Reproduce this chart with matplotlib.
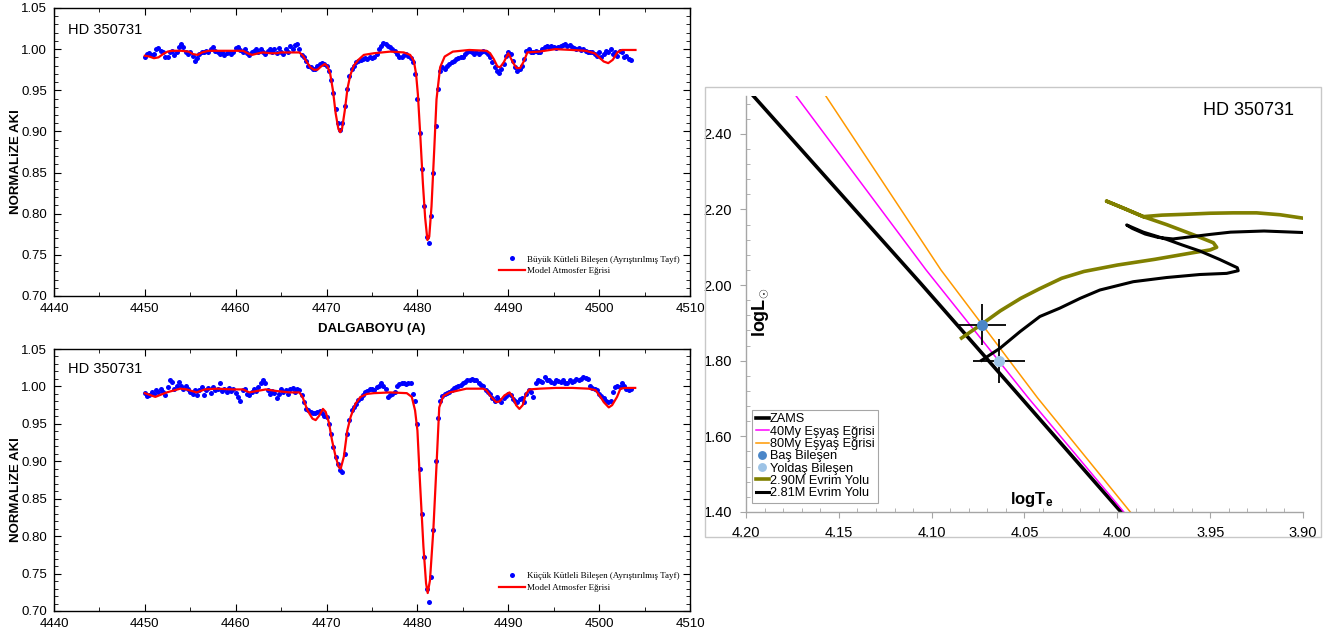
import numpy as np
import matplotlib.pyplot as plt
from matplotlib.ticker import MultipleLocator, FormatStrFormatter
from matplotlib.patches import Rectangle

plt.rcParams['font.family'] = ['Liberation Sans', 'DejaVu Sans']
plt.rcParams['mathtext.fontset'] = 'custom'
plt.rcParams['mathtext.rm'] = 'Liberation Sans'
plt.rcParams['mathtext.bf'] = 'Liberation Sans:bold'

# --- separated spectra, sampled every 0.25 A starting at 4450 A
wl_start = 4450.0
wl_step = 0.25

obs_big = [
    0.990, 0.994, 0.995, 0.993, 0.994, 1.000, 1.001, 0.998,
    0.996, 0.991, 0.990, 0.996, 0.998, 0.993, 0.997, 1.002,
    1.006, 1.003, 0.997, 0.994, 0.996, 0.992, 0.986, 0.989,
    0.994, 0.997, 0.996, 0.998, 0.997, 1.000, 1.002, 0.998,
    0.996, 0.994, 0.996, 0.993, 0.995, 0.997, 0.994, 0.996,
    1.001, 1.002, 0.999, 0.997, 1.000, 0.995, 0.993, 0.996,
    0.998, 1.000, 0.996, 1.000, 0.997, 0.994, 0.998, 1.000,
    0.996, 1.000, 0.995, 1.001, 0.997, 0.994, 1.000, 0.996,
    1.004, 1.000, 1.005, 1.006, 1.000, 0.993, 0.990, 0.986,
    0.980, 0.978, 0.976, 0.976, 0.980, 0.982, 0.983, 0.982,
    0.980, 0.974, 0.963, 0.947, 0.927, 0.910, 0.902, 0.910,
    0.931, 0.951, 0.967, 0.976, 0.980, 0.984, 0.986, 0.987,
    0.988, 0.989, 0.988, 0.990, 0.989, 0.991, 0.994, 1.000,
    1.004, 1.007, 1.006, 1.004, 1.002, 1.000, 0.998, 0.994,
    0.990, 0.991, 0.993, 0.994, 0.992, 0.989, 0.984, 0.970,
    0.939, 0.898, 0.854, 0.809, 0.772, 0.764, 0.797, 0.850,
    0.907, 0.951, 0.974, 0.978, 0.976, 0.980, 0.982, 0.984,
    0.986, 0.988, 0.989, 0.990, 0.991, 0.994, 0.997, 0.998,
    0.996, 0.994, 0.996, 0.994, 0.997, 0.998, 0.996, 0.994,
    0.990, 0.984, 0.978, 0.974, 0.971, 0.976, 0.982, 0.992,
    0.997, 0.994, 0.986, 0.978, 0.974, 0.976, 0.980, 0.988,
    0.998, 1.000, 0.997, 0.996, 0.998, 0.996, 0.997, 1.000,
    1.002, 1.004, 1.002, 1.004, 1.002, 1.001, 1.003, 1.004,
    1.005, 1.006, 1.004, 1.005, 1.002, 1.001, 1.000, 1.001,
    0.999, 1.000, 0.998, 0.997, 0.996, 0.997, 0.994, 0.992,
    0.996, 0.990, 0.994, 0.998, 0.997, 1.000, 0.994, 0.996,
    0.992, 0.998, 0.996, 0.990, 0.992, 0.988, 0.987,
]

obs_small = [
    0.991, 0.987, 0.988, 0.992, 0.990, 0.995, 0.992, 0.997,
    0.992, 0.988, 0.999, 1.008, 1.006, 0.997, 1.001, 1.006,
    1.001, 0.997, 1.001, 0.996, 0.992, 0.990, 0.995, 0.989,
    0.995, 0.999, 0.988, 0.995, 0.998, 0.991, 0.999, 0.995,
    0.997, 1.004, 0.994, 0.997, 0.992, 0.998, 0.994, 0.996,
    0.991, 0.986, 0.981, 0.995, 0.997, 0.990, 0.988, 0.992,
    0.996, 0.994, 0.999, 1.004, 1.008, 1.004, 0.995, 0.990,
    0.994, 0.991, 0.984, 0.990, 0.996, 0.992, 0.995, 0.990,
    0.996, 0.998, 0.992, 0.996, 0.995, 0.988, 0.979, 0.970,
    0.968, 0.966, 0.964, 0.964, 0.966, 0.967, 0.964, 0.961,
    0.959, 0.950, 0.937, 0.919, 0.906, 0.897, 0.888, 0.886,
    0.910, 0.937, 0.955, 0.968, 0.972, 0.977, 0.982, 0.984,
    0.988, 0.992, 0.994, 0.996, 0.997, 0.995, 0.999, 1.001,
    1.004, 1.000, 0.997, 0.986, 0.988, 0.990, 0.992, 1.001,
    1.003, 1.004, 1.004, 1.003, 1.004, 1.004, 0.990, 0.981,
    0.950, 0.890, 0.830, 0.772, 0.730, 0.712, 0.745, 0.808,
    0.900, 0.958, 0.980, 0.987, 0.990, 0.991, 0.992, 0.995,
    0.998, 0.999, 1.001, 1.002, 1.004, 1.006, 1.008, 1.009,
    1.010, 1.009, 1.008, 1.004, 1.002, 1.001, 0.995, 0.992,
    0.990, 0.985, 0.981, 0.986, 0.982, 0.979, 0.984, 0.987,
    0.990, 0.988, 0.983, 0.981, 0.979, 0.983, 0.984, 0.979,
    0.990, 0.995, 0.992, 0.986, 1.004, 1.008, 1.007, 1.006,
    1.012, 1.009, 1.008, 1.006, 1.004, 1.008, 1.007, 1.006,
    1.008, 1.005, 1.004, 1.008, 1.006, 1.007, 1.010, 1.009,
    1.010, 1.012, 1.011, 1.010, 1.001, 0.998, 0.997, 0.995,
    0.990, 0.987, 0.984, 0.980, 0.979, 0.981, 0.992, 0.999,
    1.001, 0.999, 1.004, 1.001, 0.997, 0.995, 0.997,
]

# model atmosphere fits
model_big_wl = [4450.0, 4450.5, 4451.0, 4451.5, 4452.0, 4452.5, 4453.0, 4454.0, 4454.8, 4455.3,
                4455.8, 4456.3, 4457.0, 4458.0, 4459.0, 4460.0, 4460.8, 4461.3, 4461.8, 4462.5,
                4463.0, 4463.8, 4464.5, 4465.0, 4466.0, 4467.0, 4467.4, 4467.8, 4468.2, 4468.6,
                4469.0, 4469.4, 4469.8, 4470.1, 4470.4, 4470.7, 4471.0, 4471.3, 4471.5, 4471.7,
                4472.0, 4472.3, 4472.6, 4473.0, 4473.5, 4474.1, 4475.2, 4477.0, 4478.5, 4479.2,
                4479.6, 4479.85, 4480.05, 4480.3, 4480.6, 4480.85, 4481.1, 4481.3, 4481.55, 4481.85,
                4482.1, 4482.5, 4483.0, 4483.9, 4485.7, 4487.6, 4488.0, 4488.4, 4488.8, 4489.1,
                4489.5, 4490.0, 4490.5, 4490.9, 4491.3, 4491.7, 4492.1, 4493.4, 4495.2, 4497.0,
                4498.5, 4499.5, 4500.0, 4500.5, 4501.0, 4501.5, 4502.0, 4502.5, 4504.0]
model_big_f = [0.992, 0.991, 0.989, 0.990, 0.994, 0.997, 0.998, 0.998, 0.997, 0.994,
               0.993, 0.996, 0.998, 0.998, 0.998, 0.998, 0.998, 0.995, 0.993, 0.995,
               0.996, 0.995, 0.995, 0.996, 0.996, 0.996, 0.992, 0.985, 0.978, 0.975,
               0.975, 0.979, 0.982, 0.979, 0.970, 0.950, 0.922, 0.903, 0.899, 0.903,
               0.925, 0.952, 0.968, 0.980, 0.987, 0.993, 0.995, 0.997, 0.996, 0.993,
               0.986, 0.970, 0.945, 0.898, 0.837, 0.795, 0.768, 0.772, 0.809, 0.878,
               0.939, 0.978, 0.991, 0.997, 0.999, 0.998, 0.995, 0.988, 0.979, 0.978,
               0.984, 0.995, 0.984, 0.977, 0.977, 0.985, 0.996, 0.997, 1.000, 0.999,
               0.998, 0.995, 0.990, 0.985, 0.983, 0.987, 0.996, 0.999, 0.999]

model_small_wl = [4450.0, 4451.15, 4452.4, 4453.9, 4454.6, 4455.7, 4456.6, 4457.9, 4459.7, 4460.8,
                  4461.5, 4462.4, 4463.3, 4464.4, 4465.9, 4467.0, 4467.35, 4467.9, 4468.45, 4468.8,
                  4469.2, 4469.6, 4469.9, 4470.25, 4470.6, 4471.0, 4471.35, 4471.55, 4471.9, 4472.28,
                  4472.64, 4473.19, 4473.73, 4474.46, 4475.19, 4477.0, 4478.83, 4479.38, 4479.74, 4480.0,
                  4480.29, 4480.66, 4480.95, 4481.13, 4481.38, 4481.75, 4482.11, 4482.4, 4482.84, 4483.57,
                  4485.39, 4487.21, 4487.58, 4488.12, 4488.67, 4489.03, 4489.58, 4490.13, 4490.49, 4490.86,
                  4491.22, 4491.59, 4491.95, 4492.31, 4493.41, 4495.23, 4497.05, 4498.87, 4499.6, 4500.15,
                  4500.51, 4501.06, 4501.43, 4501.97, 4502.34, 4502.88, 4503.97]
model_small_f = [0.991, 0.986, 0.992, 0.997, 0.996, 0.992, 0.996, 0.997, 0.996, 0.996,
                 0.992, 0.994, 0.996, 0.994, 0.992, 0.992, 0.986, 0.968, 0.957, 0.955,
                 0.961, 0.970, 0.966, 0.952, 0.928, 0.906, 0.892, 0.890, 0.906, 0.941,
                 0.959, 0.977, 0.986, 0.990, 0.991, 0.992, 0.991, 0.986, 0.968, 0.941,
                 0.870, 0.786, 0.737, 0.724, 0.741, 0.808, 0.897, 0.972, 0.987, 0.992,
                 0.997, 0.997, 0.995, 0.986, 0.979, 0.980, 0.988, 0.992, 0.986, 0.975,
                 0.970, 0.975, 0.990, 0.996, 0.997, 0.998, 0.998, 0.997, 0.995, 0.986,
                 0.979, 0.972, 0.975, 0.986, 0.997, 0.998, 0.998]

# --- HR diagram
zams_T = [4.196, 4.106, 4.052, 3.998]
zams_L = [2.500, 2.005, 1.703, 1.400]
iso40_T = [4.173, 4.103, 4.048, 3.9965]
iso40_L = [2.500, 2.040, 1.702, 1.400]
iso80_T = [4.157, 4.095, 4.043, 3.993]
iso80_L = [2.500, 2.040, 1.702, 1.400]

trk290_T = [4.0839, 4.0735, 4.0630, 4.0520, 4.0420, 4.0300, 4.0180, 4.0000, 3.9800, 3.9600,
            3.9500, 3.9465, 3.9483, 3.9590, 3.9735, 3.9860, 3.9960, 4.0058, 3.9960, 3.9860,
            3.9760, 3.9645, 3.9500, 3.9376, 3.9250, 3.9124, 3.9000]
trk290_L = [1.860, 1.895, 1.932, 1.965, 1.990, 2.018, 2.036, 2.053, 2.068, 2.085,
            2.093, 2.100, 2.112, 2.133, 2.160, 2.181, 2.202, 2.222, 2.202, 2.181,
            2.185, 2.187, 2.190, 2.191, 2.191, 2.186, 2.177]

trk281_T = [4.0731, 4.0632, 4.0524, 4.0417, 4.0310, 4.0200, 4.0094, 3.9914, 3.9735, 3.9555,
            3.9411, 3.9349, 3.9354, 3.9450, 3.9555, 3.9650, 3.9735, 3.9860, 3.9950, 3.9920,
            3.9850, 3.9780, 3.9700, 3.9600, 3.9500, 3.9390, 3.9210, 3.9000]
trk281_L = [1.801, 1.833, 1.877, 1.917, 1.939, 1.965, 1.987, 2.009, 2.020, 2.028,
            2.031, 2.038, 2.046, 2.068, 2.090, 2.106, 2.121, 2.140, 2.159, 2.150,
            2.135, 2.126, 2.122, 2.128, 2.134, 2.140, 2.143, 2.139]

star_names = ['Baş Bileşen', 'Yoldaş Bileşen']
star_colors = ['#4a86c8', '#9dc3e6']
star_T = [4.073, 4.064]
star_L = [1.895, 1.800]
star_Terr = [0.013, 0.014]
star_Lerr = [0.054, 0.058]


fig = plt.figure(figsize=(13.31, 6.37), dpi=100)
W, H = 1331, 637


def px_axes(left, top, right, bottom):
    return fig.add_axes([left / W, 1 - bottom / H, (right - left) / W, (bottom - top) / H])


def spectrum_panel(ax, flux, mwl, mf, label, show_xlabel):
    wl = wl_start + wl_step * np.arange(len(flux))
    ax.plot(wl, flux, 'o', color='#0000ff', ms=3.6, mew=0, label=label)
    ax.plot(mwl, mf, color='#ff0000', lw=1.6, label='Model Atmosfer Eğrisi')
    ax.set_xlim(4440, 4510)
    ax.set_ylim(0.70, 1.05)
    ax.xaxis.set_major_locator(MultipleLocator(10))
    ax.xaxis.set_minor_locator(MultipleLocator(5))
    ax.yaxis.set_major_locator(MultipleLocator(0.05))
    ax.yaxis.set_minor_locator(MultipleLocator(0.01))
    ax.yaxis.set_major_formatter(FormatStrFormatter('%.2f'))
    ax.tick_params(which='both', direction='in', top=True, right=True, labelsize=9.5, pad=5)
    ax.tick_params(which='major', length=5)
    ax.tick_params(which='minor', length=3)
    for s in ax.spines.values():
        s.set_linewidth(1.0)
    ax.text(0.022, 0.925, 'HD 350731', transform=ax.transAxes, fontsize=10.5, va='center')
    ax.set_ylabel('NORMALiZE AKI', fontsize=9.5, fontweight='bold')
    ax.yaxis.set_label_coords(-0.05, 0.465)
    if show_xlabel:
        ax.set_xlabel('DALGABOYU (A)', fontsize=9.5, fontweight='bold', labelpad=6)
    ax.legend(loc='lower right', bbox_to_anchor=(0.99, 0.06), frameon=False, numpoints=1,
              prop={'family': 'Liberation Serif', 'size': 6.5}, handlelength=2.8,
              handletextpad=0.3, labelspacing=0.35, borderaxespad=0)


ax1 = px_axes(54, 8, 690, 296)
spectrum_panel(ax1, obs_big, model_big_wl, model_big_f,
               'Büyük Kütleli Bileşen (Ayrıştırılmış Tayf)', True)
ax2 = px_axes(54, 349, 690, 611)
spectrum_panel(ax2, obs_small, model_small_wl, model_small_f,
               'Küçük Kütleli Bileşen (Ayrıştırılmış Tayf)', False)

# --- HR diagram
fig.patches.append(Rectangle((705 / W, 1 - 537 / H), 616 / W, 450 / H, transform=fig.transFigure,
                             fill=False, edgecolor='#c8c8c8', lw=1.0))
ax3 = px_axes(746, 96, 1303, 512)
ax3.plot(zams_T, zams_L, color='black', lw=2.6, label='ZAMS', zorder=2)
ax3.plot(iso40_T, iso40_L, color='#ff00ff', lw=1.1, label='40My Eşyaş Eğrisi', zorder=2)
ax3.plot(iso80_T, iso80_L, color='#ff9900', lw=1.1, label='80My Eşyaş Eğrisi', zorder=2)
ax3.errorbar(star_T, star_L, xerr=star_Terr, yerr=star_Lerr, fmt='none', ecolor='black',
             elinewidth=1.3, capsize=0, zorder=4)
for name, c, t, l in zip(star_names, star_colors, star_T, star_L):
    ax3.plot([t], [l], 'o', color=c, ms=8, mew=0, label=name, zorder=5)
ax3.plot(trk290_T, trk290_L, color='#808000', lw=2.6, label='2.90M Evrim Yolu', zorder=3)
ax3.plot(trk281_T, trk281_L, color='black', lw=2.2, label='2.81M Evrim Yolu', zorder=3)

ax3.set_xlim(4.20, 3.90)
ax3.set_ylim(1.40, 2.50)
ax3.xaxis.set_major_locator(MultipleLocator(0.05))
ax3.xaxis.set_minor_locator(MultipleLocator(0.01))
ax3.yaxis.set_major_locator(MultipleLocator(0.2))
ax3.yaxis.set_minor_locator(MultipleLocator(0.04))
ax3.xaxis.set_major_formatter(FormatStrFormatter('%.2f'))
ax3.yaxis.set_major_formatter(FormatStrFormatter('%.2f'))
ax3.tick_params(which='major', direction='out', length=4, color='#a6a6a6', labelsize=10.5, pad=6)
ax3.tick_params(which='minor', direction='in', length=3, color='#a6a6a6')
for side in ['top', 'right']:
    ax3.spines[side].set_visible(False)
for side in ['left', 'bottom']:
    ax3.spines[side].set_color('#a6a6a6')
    ax3.spines[side].set_linewidth(1.0)

ax3.text(0.027, 0.481, r'$\mathbf{logL_{\odot}}$', transform=ax3.transAxes, rotation=90,
         fontsize=13, ha='center', va='center')
ax3.text(0.513, 0.03, r'$\mathbf{logT_{e}}$', transform=ax3.transAxes,
         fontsize=12, ha='center', va='center')
ax3.text(0.8205, 0.966, 'HD 350731', transform=ax3.transAxes, fontsize=13, va='center')

handles, labels = ax3.get_legend_handles_labels()
order = ['ZAMS', '40My Eşyaş Eğrisi', '80My Eşyaş Eğrisi', 'Baş Bileşen', 'Yoldaş Bileşen',
         '2.90M Evrim Yolu', '2.81M Evrim Yolu']
hmap = dict(zip(labels, handles))
leg = ax3.legend([hmap[k] for k in order], order, loc='lower left', bbox_to_anchor=(0.011, 0.022),
                 borderaxespad=0, fontsize=9.2, handlelength=1.0, handletextpad=0.1,
                 labelspacing=0.02, borderpad=0.3, fancybox=False, framealpha=1, markerscale=0.8)
leg.get_frame().set_edgecolor('#a6a6a6')
leg.get_frame().set_linewidth(0.8)

fig.savefig('out.png', dpi=100)
